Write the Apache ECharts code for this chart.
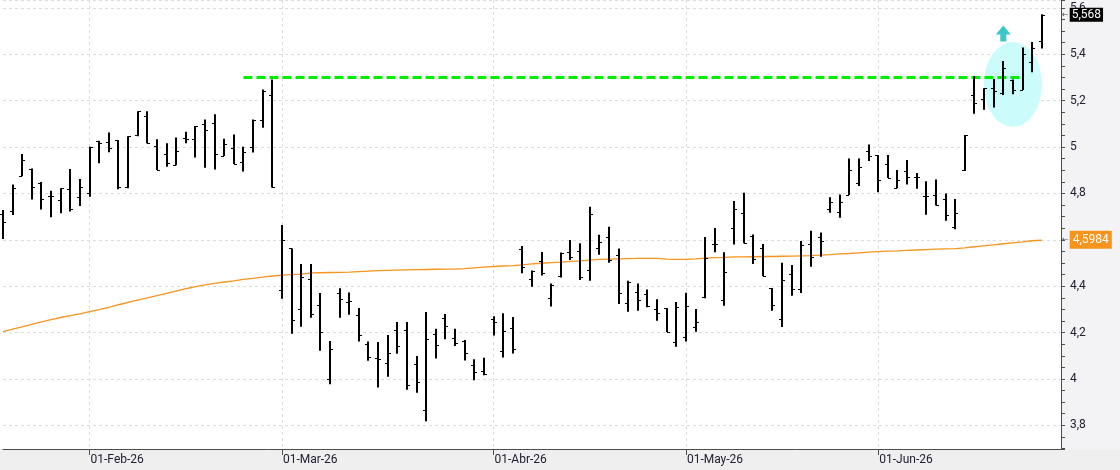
<!DOCTYPE html>
<html>
<head>
<meta charset="utf-8">
<script src="https://cdn.jsdelivr.net/npm/echarts@6/dist/echarts.min.js"></script>
<style>
  html, body { margin: 0; padding: 0; background: #fff; }
  #chart { width: 1120px; height: 470px; }
</style>
</head>
<body>
<div id="chart"></div>
<script>
// sesiones de cotización por mes (2026)
const sesionesEne = [20, 21, 22, 23, 26, 27, 28, 29, 30]
const sesionesFeb = [2, 3, 4, 5, 6, 9, 10, 11, 12, 13, 16, 17, 18, 19, 20, 23, 24, 25, 26, 27]
const sesionesMar = [2, 3, 4, 5, 6, 9, 10, 11, 12, 13, 16, 17, 18, 19, 20, 23, 24, 25, 26, 27, 30, 31]
const sesionesAbr = [1, 2, 7, 8, 9, 10, 13, 14, 15, 16, 17, 20, 21, 22, 23, 24, 27, 28, 29, 30]
const sesionesMay = [4, 5, 6, 7, 8, 11, 12, 13, 14, 15, 18, 19, 20, 21, 22, 25, 26, 27, 28, 29]
const sesionesJun = [1, 2, 3, 4, 5, 8, 9, 10, 11, 12, 15, 16, 17, 18, 19, 22, 23, 24]
const meses = ['Ene', 'Feb', 'Mar', 'Abr', 'May', 'Jun', 'Jul', 'Ago', 'Sep', 'Oct', 'Nov', 'Dic']

// OHLC
const opens = [4.710, 4.724, 4.874, 4.905, 4.847, 4.787, 4.772, 4.817, 4.783, 4.800,
  5.024, 5.020, 5.030, 4.829, 5.050, 5.135, 5.004, 4.970, 4.921, 5.039,
  5.033, 5.099, 5.102, 4.961, 4.994, 4.937, 5.001, 5.115, 5.224, 4.382,
  4.563, 4.300, 4.429, 4.317, 3.999, 4.371, 4.333, 4.275, 4.151, 4.091,
  4.068, 4.210, 4.211, 4.063, 3.865, 4.195, 4.262, 4.177, 4.165, 4.059,
  4.034, 4.259, 4.121, 4.219, 4.559, 4.429, 4.510, 4.348, 4.446, 4.549,
  4.552, 4.468, 4.563, 4.613, 4.534, 4.326, 4.375, 4.366, 4.302, 4.305,
  4.158, 4.183, 4.224, 4.355, 4.584, 4.339, 4.649, 4.714, 4.616, 4.565,
  4.392, 4.257, 4.451, 4.388, 4.580, 4.611, 4.731, 4.722, 4.793, 4.843,
  4.983, 4.966, 4.929, 4.825, 4.897, 4.869, 4.787, 4.793, 4.776, 4.656,
  4.899, 5.226, 5.206, 5.253, 5.231, 5.287, 5.248, 5.366, 5.457]
const highs = [4.728, 4.839, 4.970, 4.908, 4.849, 4.811, 4.822, 4.905, 4.862, 5.001,
  5.027, 5.063, 5.030, 5.047, 5.154, 5.154, 5.034, 5.016, 5.041, 5.066,
  5.091, 5.119, 5.141, 5.036, 5.054, 5.001, 5.119, 5.248, 5.291, 4.664,
  4.563, 4.496, 4.496, 4.371, 4.164, 4.391, 4.373, 4.306, 4.161, 4.159,
  4.190, 4.246, 4.246, 4.099, 4.289, 4.216, 4.280, 4.216, 4.168, 4.085,
  4.091, 4.270, 4.283, 4.267, 4.573, 4.468, 4.547, 4.412, 4.545, 4.599,
  4.585, 4.743, 4.622, 4.656, 4.563, 4.424, 4.412, 4.386, 4.344, 4.306,
  4.332, 4.372, 4.302, 4.612, 4.651, 4.546, 4.767, 4.803, 4.623, 4.582,
  4.392, 4.501, 4.491, 4.595, 4.639, 4.632, 4.783, 4.795, 4.951, 4.951,
  5.011, 4.966, 4.966, 4.901, 4.944, 4.888, 4.852, 4.860, 4.800, 4.776,
  5.052, 5.306, 5.253, 5.293, 5.371, 5.291, 5.429, 5.453, 5.573]
const lows = [4.603, 4.707, 4.874, 4.774, 4.731, 4.697, 4.714, 4.722, 4.746, 4.786,
  4.930, 4.977, 4.818, 4.822, 5.047, 5.016, 4.901, 4.915, 4.921, 5.016,
  4.955, 4.911, 4.903, 4.961, 4.927, 4.894, 4.976, 5.083, 4.825, 4.346,
  4.195, 4.225, 4.264, 4.122, 3.977, 4.264, 4.277, 4.162, 4.079, 3.963,
  4.010, 4.109, 3.954, 3.941, 3.818, 4.088, 4.171, 4.142, 4.080, 3.994,
  4.016, 4.187, 4.093, 4.110, 4.456, 4.398, 4.446, 4.312, 4.438, 4.513,
  4.427, 4.424, 4.536, 4.501, 4.323, 4.290, 4.294, 4.309, 4.251, 4.203,
  4.139, 4.161, 4.204, 4.348, 4.546, 4.316, 4.580, 4.585, 4.496, 4.443,
  4.294, 4.224, 4.359, 4.371, 4.484, 4.527, 4.717, 4.695, 4.793, 4.832,
  4.940, 4.805, 4.866, 4.822, 4.839, 4.820, 4.708, 4.748, 4.682, 4.645,
  4.897, 5.144, 5.161, 5.171, 5.224, 5.228, 5.246, 5.322, 5.425]
const closes = [4.678, 4.822, 4.942, 4.826, 4.774, 4.787, 4.822, 4.731, 4.826, 5.001,
  5.018, 4.998, 4.829, 5.047, 5.154, 5.016, 4.901, 4.932, 4.981, 5.036,
  5.091, 5.073, 4.970, 5.014, 4.927, 4.977, 5.116, 5.241, 4.828, 4.598,
  4.254, 4.438, 4.279, 4.201, 4.129, 4.344, 4.335, 4.188, 4.095, 4.086,
  4.111, 4.141, 3.974, 3.986, 4.172, 4.145, 4.227, 4.154, 4.111, 4.030,
  4.020, 4.246, 4.207, 4.129, 4.481, 4.466, 4.455, 4.403, 4.541, 4.527,
  4.441, 4.710, 4.592, 4.513, 4.369, 4.418, 4.341, 4.315, 4.283, 4.204,
  4.312, 4.315, 4.246, 4.520, 4.580, 4.460, 4.731, 4.585, 4.517, 4.443,
  4.319, 4.425, 4.386, 4.578, 4.527, 4.595, 4.764, 4.764, 4.901, 4.915,
  4.963, 4.858, 4.866, 4.860, 4.869, 4.869, 4.787, 4.748, 4.707, 4.717,
  5.052, 5.192, 5.253, 5.243, 5.341, 5.248, 5.400, 5.429, 5.568]

// media móvil
const media = [4.204, 4.215, 4.225, 4.235, 4.246, 4.256, 4.265, 4.273, 4.281, 4.290,
  4.299, 4.309, 4.320, 4.330, 4.340, 4.350, 4.359, 4.369, 4.379, 4.389,
  4.398, 4.406, 4.412, 4.418, 4.423, 4.429, 4.434, 4.439, 4.444, 4.448,
  4.450, 4.452, 4.457, 4.458, 4.459, 4.460, 4.461, 4.463, 4.465, 4.467,
  4.468, 4.469, 4.470, 4.471, 4.472, 4.473, 4.474, 4.474, 4.476, 4.479,
  4.482, 4.485, 4.487, 4.489, 4.492, 4.496, 4.499, 4.502, 4.504, 4.507,
  4.509, 4.512, 4.516, 4.517, 4.518, 4.519, 4.520, 4.520, 4.520, 4.517,
  4.516, 4.516, 4.518, 4.521, 4.523, 4.524, 4.526, 4.526, 4.527, 4.528,
  4.528, 4.529, 4.530, 4.531, 4.532, 4.534, 4.536, 4.539, 4.541, 4.544,
  4.547, 4.549, 4.551, 4.552, 4.554, 4.556, 4.558, 4.560, 4.561, 4.562,
  4.565, 4.570, 4.574, 4.578, 4.583, 4.587, 4.591, 4.596, 4.598]

const resistenciaIdx = [25, 106]
const resistencia = 5.30
const zonaIdx = 105
const zona = 5.27
const flechaIdx = 104
const flecha = 5.49
const ultimoPrecio = 5.568
const ultimaMedia = 4.5984

const yMin = 3.698
const yMax = 5.634

const categories = []
;[sesionesEne, sesionesFeb, sesionesMar, sesionesAbr, sesionesMay, sesionesJun].forEach((dias, m) => {
  dias.forEach(d => {
    categories.push('2026-' + String(m + 1).padStart(2, '0') + '-' + String(d).padStart(2, '0'))
  })
})
// hueco a la derecha
categories.push('', '')

function inicioMes(idx) {
  if (idx === 0 || !categories[idx]) return false
  return categories[idx].slice(5, 7) !== categories[idx - 1].slice(5, 7)
}

function etiquetaPrecio(valor, fondo, alto, pad) {
  return {
    show: true,
    position: 'end',
    distance: 1,
    formatter: '{a|←}{b|' + String(valor).replace('.', ',') + '}',
    rich: {
      a: { fontFamily: 'DejaVu Sans', fontSize: 8, color: '#555', verticalAlign: 'middle', padding: [0, 1, 0, 0] },
      b: { backgroundColor: fondo, color: '#fff', fontSize: 12, fontFamily: 'Roboto', lineHeight: alto, padding: pad, verticalAlign: 'middle' }
    }
  }
}

const ohlc = opens.map((o, i) => [i, o, highs[i], lows[i], closes[i]])

const myChart = echarts.init(document.getElementById('chart'))

myChart.setOption({
  animation: false,
  backgroundColor: '#fff',
  textStyle: { fontFamily: 'Roboto' },
  graphic: [
    { type: 'rect', left: 1061, top: 0, z: -100, silent: true, shape: { width: 59, height: 449 }, style: { fill: '#f3f3f5' } },
    { type: 'rect', left: 0, top: 449, z: -100, silent: true, shape: { width: 1120, height: 21 }, style: { fill: '#efefef' } }
  ],
  grid: {
    left: 3,
    right: 59,
    top: 0,
    bottom: 21,
    show: true,
    backgroundColor: '#fff',
    borderWidth: 0,
    containLabel: false,
    outerBoundsMode: 'none'
  },
  xAxis: {
    type: 'category',
    data: categories,
    boundaryGap: false,
    axisLine: { lineStyle: { color: '#4d4d4d' } },
    axisTick: { interval: inicioMes, length: 6, lineStyle: { color: '#4d4d4d' } },
    axisLabel: {
      interval: inicioMes,
      formatter: v => '01-' + meses[+v.slice(5, 7) - 1] + '-' + v.slice(2, 4),
      align: 'left',
      margin: 5,
      padding: [0, 0, 0, 1],
      color: '#202033',
      fontSize: 12,
      fontFamily: 'Roboto'
    },
    splitLine: { show: true, interval: inicioMes, lineStyle: { color: '#dcdcdc', type: [3, 3] } }
  },
  yAxis: {
    type: 'value',
    position: 'right',
    min: yMin,
    max: yMax,
    splitNumber: 10,
    axisLine: { show: true, lineStyle: { color: '#4d4d4d' } },
    axisTick: { show: true, length: 4, lineStyle: { color: '#4d4d4d' } },
    minorTick: { show: true, splitNumber: 4, length: 4, lineStyle: { color: '#4d4d4d' } },
    splitLine: { show: true, lineStyle: { color: '#dcdcdc', type: [3, 3] } },
    axisLabel: {
      margin: 9,
      color: '#202033',
      fontSize: 12,
      fontFamily: 'Roboto',
      formatter: v => {
        const k = v / 0.2
        if (Math.abs(k - Math.round(k)) > 1e-6) return ''
        return String(+v.toFixed(1)).replace('.', ',')
      }
    }
  },
  series: [
    {
      name: 'zona',
      type: 'scatter',
      z: 1,
      silent: true,
      symbol: 'circle',
      symbolSize: [58, 85],
      itemStyle: { color: '#ccfbfb', opacity: 1 },
      data: [[zonaIdx, zona]]
    },
    {
      name: 'flecha',
      type: 'scatter',
      z: 1,
      silent: true,
      symbol: 'path://M7.5,0L15,9L10.5,9L10.5,16L4.5,16L4.5,9L0,9Z',
      symbolSize: [15, 16],
      itemStyle: { color: '#3cc8c8', opacity: 1 },
      data: [[flechaIdx, flecha]]
    },
    {
      name: 'resistencia',
      type: 'line',
      z: 2,
      silent: true,
      symbol: 'none',
      lineStyle: { color: '#00ee00', width: 3, type: [9, 4] },
      data: resistenciaIdx.map(i => [i, resistencia])
    },
    {
      name: 'media',
      type: 'line',
      z: 3,
      silent: true,
      clip: false,
      symbol: 'none',
      lineStyle: { color: '#f7941d', width: 1.3 },
      data: media
    },
    {
      name: 'precio',
      type: 'custom',
      z: 4,
      silent: true,
      clip: false,
      encode: { x: 0, y: [1, 2, 3, 4] },
      data: ohlc,
      markLine: {
        silent: true,
        symbol: ['none', 'none'],
        animation: false,
        lineStyle: { color: 'rgba(0,0,0,0)', width: 1, type: 'solid' },
        data: [
          { yAxis: ultimaMedia, label: etiquetaPrecio(ultimaMedia, '#f7941d', 12, [3, 3, 3, 3]) },
          { yAxis: ultimoPrecio, label: etiquetaPrecio(ultimoPrecio, '#000', 13, [1, 2, 1, 2]) }
        ]
      },
      renderItem: function (params, api) {
        const i = api.value(0)
        const pO = api.coord([i, api.value(1)])
        const pH = api.coord([i, api.value(2)])
        const pL = api.coord([i, api.value(3)])
        const pC = api.coord([i, api.value(4)])
        const x = Math.round(pH[0])
        const yo = Math.round(pO[1]) + 0.5
        const yc = Math.round(pC[1]) + 0.5
        return {
          type: 'group',
          children: [
            { type: 'line', shape: { x1: x, y1: pH[1], x2: x, y2: pL[1] }, style: { stroke: '#000', lineWidth: 2 } },
            { type: 'line', shape: { x1: x - 3, y1: yo, x2: x, y2: yo }, style: { stroke: '#000', lineWidth: 1 } },
            { type: 'line', shape: { x1: x, y1: yc, x2: x + 3, y2: yc }, style: { stroke: '#000', lineWidth: 1 } }
          ]
        }
      }
    }
  ]
})
</script>
</body>
</html>
